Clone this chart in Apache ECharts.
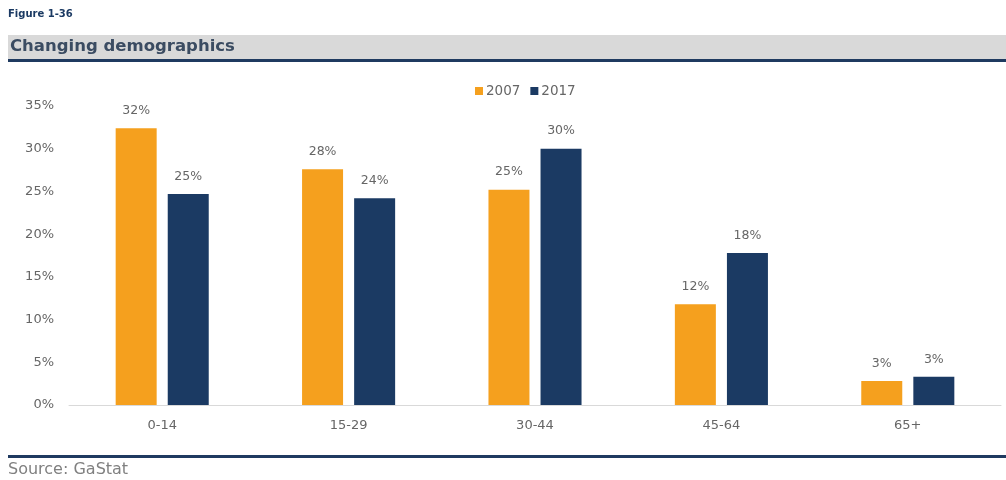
<!DOCTYPE html>
<html>
<head>
<meta charset="utf-8">
<script src="https://cdn.jsdelivr.net/npm/echarts@6/dist/echarts.min.js"></script>
<style>
  html, body { margin: 0; padding: 0; background: #ffffff; }
  #chart { width: 1006px; height: 480px; }
</style>
</head>
<body>
<div id="chart"></div>
<script>
// Age groups and population shares (%)
const ageGroups = ['0-14', '15-29', '30-44', '45-64', '65+'];
const share2007 = [32.4, 27.6, 25.2, 11.8, 2.8];
const share2017 = [24.7, 24.2, 30.0, 17.8, 3.3];
const yTicks = { min: 0, max: 35, step: 5 };

const ORANGE = '#F5A01E';
const NAVY = '#1B3A63';
const TEXT = '#666666';
const FONT = '"DejaVu Sans", Verdana, sans-serif';

const chart = echarts.init(document.getElementById('chart'), null, { renderer: 'canvas' });

const labelStyle = {
  show: true,
  position: 'top',
  distance: 11,
  color: TEXT,
  fontSize: 12.5,
  fontFamily: FONT,
  formatter: p => Math.round(p.value) + '%'
};

chart.setOption({
  backgroundColor: '#ffffff',
  animation: false,
  graphic: [
    { type: 'text', left: 8, top: 9,
      style: { text: 'Figure 1-36', fill: '#1B3A63', font: 'bold 10px ' + FONT } },
    { type: 'rect', shape: { x: 8, y: 35, width: 998, height: 24 },
      style: { fill: '#D9D9D9' } },
    { type: 'rect', shape: { x: 8, y: 59, width: 998, height: 3 },
      style: { fill: '#1F3A60' } },
    { type: 'text', left: 10, top: 38,
      style: { text: 'Changing demographics', fill: '#3B4C62', font: 'bold 16.5px ' + FONT } },
    { type: 'rect', shape: { x: 8, y: 455, width: 998, height: 3 },
      style: { fill: '#1F3A60' } },
    { type: 'text', left: 8, top: 462,
      style: { text: 'Source: GaStat', fill: '#808080', font: '16px ' + FONT } }
  ],
  legend: {
    top: 79,
    left: 470,
    itemWidth: 8,
    itemHeight: 8,
    itemGap: 10,
    icon: 'rect',
    textStyle: { color: TEXT, fontSize: 13.5, fontFamily: FONT, padding: [0, 0, 0, -2] },
    data: ['2007', '2017']
  },
  grid: { left: 69, right: 5, top: 106, bottom: 75 },
  xAxis: {
    type: 'category',
    data: ageGroups,
    axisLine: { show: true, lineStyle: { color: '#D9D9D9', width: 1 } },
    axisTick: { show: false },
    axisLabel: { color: TEXT, fontSize: 13, fontFamily: FONT, margin: 14 }
  },
  yAxis: {
    type: 'value',
    min: yTicks.min,
    max: yTicks.max,
    interval: yTicks.step,
    axisLine: { show: false },
    axisTick: { show: false },
    splitLine: { show: false },
    axisLabel: { color: TEXT, fontSize: 13, fontFamily: FONT, margin: 15,
      formatter: v => v + '%' }
  },
  series: [
    { name: '2007', type: 'bar', data: share2007, barWidth: 41, barGap: '27%',
      itemStyle: { color: ORANGE }, label: labelStyle },
    { name: '2017', type: 'bar', data: share2017, barWidth: 41,
      itemStyle: { color: NAVY }, label: labelStyle }
  ]
});
</script>
</body>
</html>
